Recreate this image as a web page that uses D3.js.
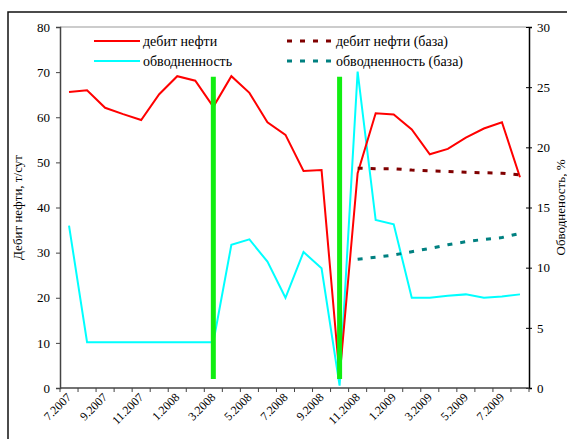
<!DOCTYPE html>
<html>
<head>
<meta charset="utf-8">
<script src="https://cdn.jsdelivr.net/npm/d3@7/dist/d3.min.js"></script>
<style>
  html, body { margin: 0; padding: 0; background: #fff; }
  svg { display: block; }
</style>
</head>
<body>
<svg id="chart" width="567" height="439"></svg>
<script>
const FONT = "'Liberation Serif', 'Times New Roman', 'DejaVu Serif', serif";

// Monthly categories, 7.2007 … 8.2009
const months = [
  "7.2007","8.2007","9.2007","10.2007","11.2007","12.2007",
  "1.2008","2.2008","3.2008","4.2008","5.2008","6.2008","7.2008","8.2008","9.2008","10.2008","11.2008","12.2008",
  "1.2009","2.2009","3.2009","4.2009","5.2009","6.2009","7.2009","8.2009"
];
// Labelled months on the category axis
const tickMonths = ["7.2007","9.2007","11.2007","1.2008","3.2008","5.2008","7.2008","9.2008","11.2008","1.2009","3.2009","5.2009","7.2009"];

// Oil rate, t/day (left axis)
const oilRate = [65.6, 66.0, 62.1, 60.7, 59.4, 65.1, 69.1, 68.1, 62.3, 69.1, 65.4, 58.9, 56.1, 48.1, 48.3, 2.5,
                 47.6, 60.9, 60.6, 57.3, 51.8, 53.0, 55.5, 57.5, 58.9, 46.7];
// Water cut, % (right axis)
const waterCut = [13.5, 3.8, 3.8, 3.8, 3.8, 3.8, 3.8, 3.8, 3.8, 11.9, 12.35, 10.5, 7.5, 11.3, 9.95, 0.2,
                  26.3, 13.96, 13.6, 7.5, 7.5, 7.67, 7.78, 7.5, 7.6, 7.78];
// Base-case forecast from 11.2008 onward
const baseMonths = ["11.2008","12.2008","1.2009","2.2009","3.2009","4.2009","5.2009","6.2009","7.2009","8.2009"];
const oilRateBase = [48.7, 48.6, 48.6, 48.3, 48.1, 48.0, 47.8, 47.7, 47.6, 47.2];
const waterCutBase = [10.7, 10.86, 11.05, 11.33, 11.6, 11.9, 12.16, 12.35, 12.5, 12.85];
// Well interventions (vertical markers), spanning the oil-rate scale
const eventMonths = ["3.2008", "10.2008"];
const eventRange = [2, 69];

const leftTicks = [0, 10, 20, 30, 40, 50, 60, 70, 80];
const rightTicks = [0, 5, 10, 15, 20, 25, 30];

const svg = d3.select("#chart");
const L = 60, R = 529, T = 27, B = 388;

const x = d3.scaleBand().domain(months).range([L, R]).padding(0);
const cx = m => x(m) + x.bandwidth() / 2;
const yL = d3.scaleLinear().domain([0, 80]).range([B, T]);
const yR = d3.scaleLinear().domain([0, 30]).range([B, T]);

// outer chart frame
svg.append("path").attr("d", "M8,439 L8,12 L567,12")
  .attr("fill", "none").attr("stroke", "#111").attr("stroke-width", 1.5);

// plot area top border
svg.append("line").attr("x1", L).attr("x2", R).attr("y1", T).attr("y2", T)
  .attr("stroke", "#999").attr("stroke-width", 1);

// left axis
const gL = svg.append("g").attr("transform", `translate(${L},0)`)
  .call(d3.axisLeft(yL).tickValues(leftTicks).tickSize(4).tickPadding(6).tickFormat(d3.format("d")));
gL.attr("font-family", FONT).attr("font-size", 13);
gL.select(".domain").attr("stroke", "#444").attr("stroke-width", 1.5);
gL.selectAll(".tick line").attr("stroke", "#444");
gL.selectAll("text").style("font-family", FONT).style("font-size", "13px").attr("fill", "#000");

// right axis with crossing ticks
const gR = svg.append("g").attr("transform", `translate(${R},0)`)
  .call(d3.axisRight(yR).tickValues(rightTicks).tickSize(3).tickPadding(5).tickFormat(d3.format("d")));
gR.attr("font-family", FONT).attr("font-size", 13);
gR.select(".domain").attr("stroke", "#000").attr("stroke-width", 1.5);
gR.selectAll(".tick line").attr("x1", -3).attr("x2", 3).attr("stroke", "#000");
gR.selectAll("text").style("font-family", FONT).style("font-size", "13px").attr("fill", "#000");

// category axis: ticks between months
const boundaries = months.map(m => x(m)).concat([R]);
const gB = svg.append("g");
gB.append("line").attr("x1", L).attr("x2", R).attr("y1", B).attr("y2", B)
  .attr("stroke", "#444").attr("stroke-width", 1.5);
gB.selectAll("line.tk").data(boundaries).join("line").attr("class", "tk")
  .attr("x1", d => d).attr("x2", d => d).attr("y1", B).attr("y2", B + 4)
  .attr("stroke", "#444").attr("stroke-width", 1);
gB.selectAll("text").data(tickMonths).join("text")
  .attr("transform", m => `translate(${cx(m) + 3},${B + 10}) rotate(-45)`)
  .attr("text-anchor", "end")
  .style("font-family", FONT).style("font-size", "12px")
  .text(m => m);

// axis titles
svg.append("text")
  .attr("transform", `translate(22,${(T + B) / 2}) rotate(-90)`)
  .attr("text-anchor", "middle")
  .style("font-family", FONT).style("font-size", "13px")
  .text("Дебит нефти, т/сут");
svg.append("text")
  .attr("transform", `translate(565,${(T + B) / 2}) rotate(-90)`)
  .attr("text-anchor", "middle")
  .style("font-family", FONT).style("font-size", "13px")
  .text("Обводненость, %");

// series
const lineL = d3.line().x(d => cx(d[0])).y(d => yL(d[1]));
const lineR = d3.line().x(d => cx(d[0])).y(d => yR(d[1]));

svg.append("path").datum(months.map((m, i) => [m, waterCut[i]]))
  .attr("d", lineR).attr("fill", "none").attr("stroke", "#00ffff").attr("stroke-width", 2);
svg.append("path").datum(months.map((m, i) => [m, oilRate[i]]))
  .attr("d", lineL).attr("fill", "none").attr("stroke", "#ff0000").attr("stroke-width", 2);
svg.append("path").datum(baseMonths.map((m, i) => [m, oilRateBase[i]]))
  .attr("d", lineL).attr("fill", "none").attr("stroke", "#800000").attr("stroke-width", 3)
  .attr("stroke-dasharray", "5,8");
svg.append("path").datum(baseMonths.map((m, i) => [m, waterCutBase[i]]))
  .attr("d", lineR).attr("fill", "none").attr("stroke", "#008080").attr("stroke-width", 3)
  .attr("stroke-dasharray", "5,8");

// intervention markers
svg.selectAll("line.ev").data(eventMonths).join("line").attr("class", "ev")
  .attr("x1", m => cx(m)).attr("x2", m => cx(m))
  .attr("y1", yL(eventRange[0])).attr("y2", yL(eventRange[1]))
  .attr("stroke", "#11ee11").attr("stroke-width", 5);

// legend
const legend = [
  { label: "дебит нефти", color: "#ff0000", dash: null, w: 2, x: 94, y: 41 },
  { label: "обводненность", color: "#00ffff", dash: null, w: 2, x: 94, y: 61 },
  { label: "дебит нефти (база)", color: "#800000", dash: "5,8", w: 3, x: 287, y: 41 },
  { label: "обводненность (база)", color: "#008080", dash: "5,8", w: 3, x: 287, y: 61 }
];
const lg = svg.append("g").selectAll("g").data(legend).join("g");
lg.append("line")
  .attr("x1", d => d.x).attr("x2", d => d.x + 46).attr("y1", d => d.y).attr("y2", d => d.y)
  .attr("stroke", d => d.color).attr("stroke-width", d => d.w)
  .attr("stroke-dasharray", d => d.dash);
lg.append("text")
  .attr("x", d => d.x + 49).attr("y", d => d.y + 5)
  .style("font-family", FONT).style("font-size", "14px")
  .text(d => d.label);
</script>
</body>
</html>
